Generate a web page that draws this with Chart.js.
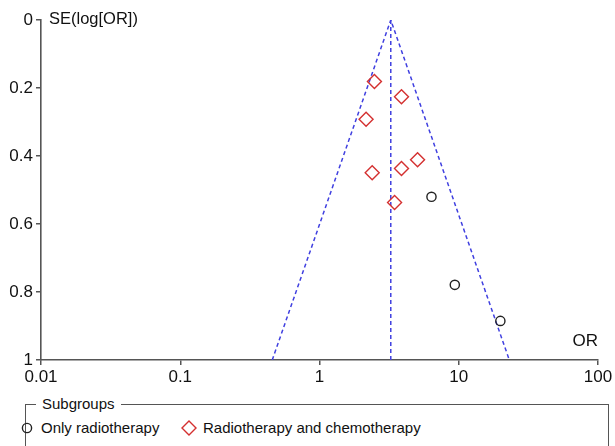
<!DOCTYPE html>
<html>
<head>
<meta charset="utf-8">
<script src="https://cdn.jsdelivr.net/npm/chart.js@4/dist/chart.umd.min.js"></script>
<style>
  body { margin: 0; background: #fff; font-family: "Liberation Sans", Arial, sans-serif; color: #111; }
  #wrap { position: relative; width: 615px; height: 446px; overflow: hidden; }
  #chart { position: absolute; left: 0; top: 0; }
  #legendBox { position: absolute; left: 25px; top: 404px; width: 582px; height: 60px; border: 1px solid #555; }
  #legendBox .title { position: absolute; left: 10px; top: -10px; padding: 0 6px; background: #fff; font-size: 15px; line-height: 18px; }
  .sym { position: absolute; }
  .lbl { position: absolute; font-size: 15px; line-height: 18px; white-space: nowrap; }
</style>
</head>
<body>
<div id="wrap">
  <canvas id="chart" width="615" height="395"></canvas>
  <div id="legendBox"><span class="title">Subgroups</span></div>
  <svg class="sym" style="left:21px;top:422px" width="12" height="12"><circle cx="6" cy="6" r="4.6" fill="none" stroke="#222" stroke-width="1.4"/></svg>
  <span class="lbl" style="left:41px;top:419px">Only radiotherapy</span>
  <svg class="sym" style="left:181px;top:420px" width="16" height="16"><path d="M8 1 L15 8 L8 15 L1 8 Z" fill="none" stroke="#d43030" stroke-width="1.4"/></svg>
  <span class="lbl" style="left:203px;top:419px">Radiotherapy and chemotherapy</span>
</div>
<script>
// tick labels
const orTicks = [0.01, 0.1, 1, 10, 100];
const seTicks = [0, 0.2, 0.4, 0.6, 0.8, 1];

// studies (odds ratio, standard error of log OR)
const radioOR = [6.37, 9.37, 19.9];
const radioSE = [0.52, 0.779, 0.885];
const chemoOR = [2.48, 3.88, 2.16, 5.06, 3.88, 2.39, 3.46];
const chemoSE = [0.181, 0.226, 0.292, 0.411, 0.437, 0.449, 0.537];

// pooled estimate and funnel extent
const pooledOR = 3.25;
const funnelSE = [0, 1];

const toPoints = (xs, ys) => xs.map((x, i) => ({ x: x, y: ys[i] }));
const seMax = funnelSE[1];
const funnel = [
  { x: pooledOR * Math.exp(-1.96 * seMax), y: seMax },
  { x: pooledOR, y: funnelSE[0] },
  { x: pooledOR * Math.exp(1.96 * seMax), y: seMax }
];
const centre = [{ x: pooledOR, y: funnelSE[0] }, { x: pooledOR, y: seMax }];

const FONT = '"Liberation Sans", Arial, sans-serif';

const axisTitles = {
  id: 'axisTitles',
  afterDraw(chart) {
    const ctx = chart.ctx;
    const a = chart.chartArea;
    ctx.save();
    ctx.fillStyle = '#111';
    ctx.textBaseline = 'middle';
    ctx.font = '16.5px ' + FONT;
    ctx.textAlign = 'left';
    ctx.fillText('SE(log[OR])', a.left + 8, a.top - 1);
    ctx.font = '17px ' + FONT;
    ctx.textAlign = 'right';
    ctx.fillText('OR', a.right, a.bottom - 19);
    ctx.restore();
  }
};

new Chart(document.getElementById('chart').getContext('2d'), {
  type: 'scatter',
  data: {
    datasets: [
      {
        label: 'Only radiotherapy',
        data: toPoints(radioOR, radioSE),
        pointStyle: 'circle',
        pointRadius: 4.6,
        pointBorderWidth: 1.4,
        borderColor: '#222',
        backgroundColor: 'rgba(0,0,0,0)'
      },
      {
        label: 'Radiotherapy and chemotherapy',
        data: toPoints(chemoOR, chemoSE),
        pointStyle: 'rectRot',
        pointRadius: 7,
        pointBorderWidth: 1.4,
        borderColor: '#d43030',
        backgroundColor: 'rgba(0,0,0,0)'
      },
      {
        label: 'funnel',
        data: funnel,
        showLine: true,
        pointRadius: 0,
        borderColor: '#4040e0',
        borderWidth: 1.5,
        borderDash: [4, 3],
        fill: false
      },
      {
        label: 'pooled',
        data: centre,
        showLine: true,
        pointRadius: 0,
        borderColor: '#4040e0',
        borderWidth: 1.5,
        borderDash: [4, 3],
        fill: false
      }
    ]
  },
  options: {
    responsive: false,
    animation: false,
    layout: { padding: { top: 20, right: 17, left: 0, bottom: 0 } },
    plugins: { legend: { display: false }, tooltip: { enabled: false } },
    scales: {
      x: {
        type: 'logarithmic',
        min: orTicks[0],
        max: orTicks[orTicks.length - 1],
        border: { color: '#555', width: 1.6 },
        grid: { drawOnChartArea: false, drawTicks: true, tickLength: 5, color: '#555', lineWidth: 1.5 },
        ticks: {
          color: '#111',
          font: { size: 17, family: FONT },
          padding: 2,
          autoSkip: false,
          maxRotation: 0,
          callback: v => String(v)
        },
        afterBuildTicks: s => { s.ticks = orTicks.map(v => ({ value: v })); },
        afterFit: s => { s.height = 35; }
      },
      y: {
        min: seTicks[0],
        max: seTicks[seTicks.length - 1],
        reverse: true,
        border: { color: '#555', width: 1.6 },
        grid: { drawOnChartArea: false, drawTicks: true, tickLength: 5, color: '#555', lineWidth: 1.5 },
        ticks: {
          color: '#111',
          font: { size: 17, family: FONT },
          padding: 3,
          callback: v => String(+v.toFixed(1))
        },
        afterBuildTicks: s => { s.ticks = seTicks.map(v => ({ value: v })); },
        afterFit: s => { s.width = 41; }
      }
    }
  },
  plugins: [axisTitles]
});
</script>
</body>
</html>
